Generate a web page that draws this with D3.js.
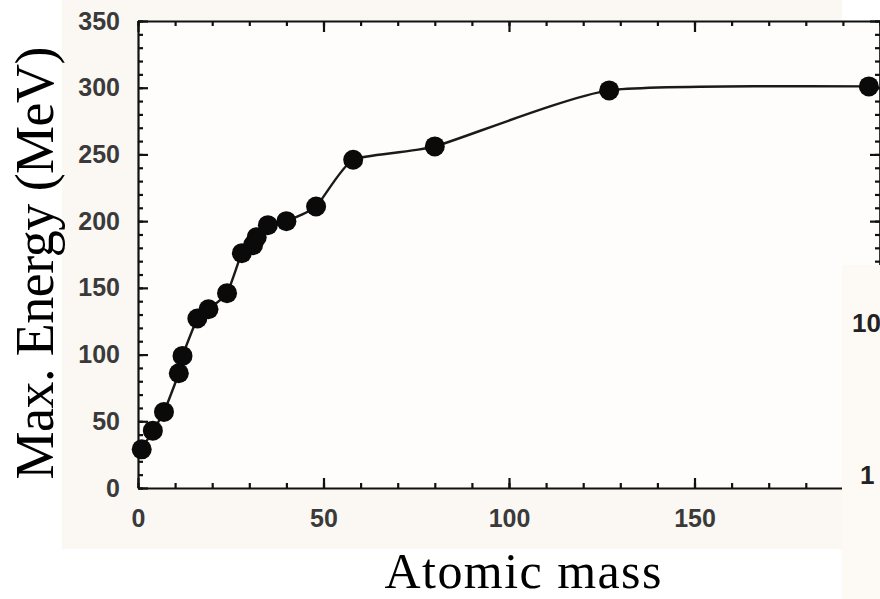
<!DOCTYPE html>
<html>
<head>
<meta charset="utf-8">
<script src="https://cdn.jsdelivr.net/npm/d3@7"></script>
<style>
  body { margin: 0; background: #fff; }
  svg { display: block; }
</style>
</head>
<body>
<svg width="880" height="599"></svg>
<script>
// Data
const mass = [1, 4, 7, 11, 12, 16, 19, 24, 28, 31, 32, 35, 40, 48, 58, 80, 127, 197];
const energy = [29, 43, 57, 86, 99, 127, 134, 146, 176, 182, 188, 197, 200, 211, 246, 256, 298, 301];
const xTicks = [0, 50, 100, 150];
const yTicks = [0, 50, 100, 150, 200, 250, 300, 350];

const points = mass.map((m, i) => ({ m: m, e: energy[i] }));

const svg = d3.select('svg');

// scanned-paper backgrounds
svg.append('rect')
  .attr('x', 62).attr('y', 0)
  .attr('width', 780).attr('height', 549)
  .attr('fill', '#fbf8f4');

const x = d3.scaleLinear().domain([0, 200]).range([138, 880]);
const y = d3.scaleLinear().domain([0, 350]).range([488, 21]);

svg.append('rect')
  .attr('x', x(0)).attr('y', y(350))
  .attr('width', x(200) - x(0)).attr('height', y(0) - y(350))
  .attr('fill', '#fffdfb');

const minorX = d3.range(0, 201, 10);
const minorY = d3.range(0, 351, 10);

function styleAxis(g) {
  g.selectAll('path, line').attr('stroke', '#111').attr('stroke-width', 2.2);
  g.selectAll('text')
    .attr('font-family', '"Liberation Sans", Arial, sans-serif')
    .attr('font-size', 25)
    .attr('font-weight', 'bold')
    .attr('fill', '#3a3a3a');
}

// bottom axis
svg.append('g')
  .attr('transform', `translate(0,${y(0)})`)
  .call(d3.axisBottom(x).tickValues(minorX).tickSizeInner(-5).tickSizeOuter(0).tickFormat(''))
  .call(styleAxis);
svg.append('g')
  .attr('transform', `translate(0,${y(0)})`)
  .call(d3.axisBottom(x).tickValues(xTicks).tickSizeInner(-10).tickSizeOuter(0).tickPadding(21))
  .call(g => g.select('.domain').remove())
  .call(styleAxis);

// top axis
svg.append('g')
  .attr('transform', `translate(0,${y(350)})`)
  .call(d3.axisTop(x).tickValues(minorX).tickSizeInner(-5).tickSizeOuter(0).tickFormat(''))
  .call(styleAxis);
svg.append('g')
  .attr('transform', `translate(0,${y(350)})`)
  .call(d3.axisTop(x).tickValues(xTicks).tickSizeInner(-11).tickSizeOuter(0).tickFormat(''))
  .call(g => g.select('.domain').remove())
  .call(styleAxis);

// left axis
svg.append('g')
  .attr('transform', `translate(${x(0)},0)`)
  .call(d3.axisLeft(y).tickValues(minorY).tickSizeInner(-5).tickSizeOuter(0).tickFormat(''))
  .call(styleAxis);
svg.append('g')
  .attr('transform', `translate(${x(0)},0)`)
  .call(d3.axisLeft(y).tickValues(yTicks).tickSizeInner(-10).tickSizeOuter(0).tickPadding(18))
  .call(g => g.select('.domain').remove())
  .call(styleAxis);

// right axis (edge of the frame)
svg.append('g')
  .attr('transform', `translate(${x(200)},0)`)
  .call(d3.axisRight(y).tickValues(minorY).tickSizeInner(-5).tickSizeOuter(0).tickFormat(''))
  .call(styleAxis);
svg.append('g')
  .attr('transform', `translate(${x(200)},0)`)
  .call(d3.axisRight(y).tickValues(yTicks).tickSizeInner(-10).tickSizeOuter(0).tickFormat(''))
  .call(styleAxis);

// curve and points
const line = d3.line()
  .x(d => x(d.m))
  .y(d => y(d.e))
  .curve(d3.curveCardinal.tension(0.45));

svg.append('path')
  .datum(points)
  .attr('d', line)
  .attr('fill', 'none')
  .attr('stroke', '#1a1a1a')
  .attr('stroke-width', 2.4);

svg.append('g')
  .selectAll('circle')
  .data(points)
  .join('circle')
  .attr('cx', d => x(d.m))
  .attr('cy', d => y(d.e))
  .attr('r', 10)
  .attr('fill', '#0a0a0a');

// strip of the neighbouring panel on the right
svg.append('rect')
  .attr('x', 842).attr('y', 265)
  .attr('width', 38).attr('height', 334)
  .attr('fill', '#fdfaf5');

svg.append('text')
  .attr('x', 852).attr('y', 332)
  .attr('font-family', '"Liberation Sans", Arial, sans-serif')
  .attr('font-size', 26).attr('font-weight', 'bold').attr('fill', '#222')
  .text('10');
svg.append('text')
  .attr('x', 860).attr('y', 484)
  .attr('font-family', '"Liberation Sans", Arial, sans-serif')
  .attr('font-size', 26).attr('font-weight', 'bold').attr('fill', '#222')
  .text('1');

// axis titles
svg.append('text')
  .attr('x', 523).attr('y', 588)
  .attr('text-anchor', 'middle')
  .attr('font-family', '"Liberation Serif", "Times New Roman", serif')
  .attr('font-size', 50)
  .attr('textLength', 277)
  .attr('fill', '#000')
  .text('Atomic mass');

svg.append('text')
  .attr('transform', 'translate(53,263) rotate(-90)')
  .attr('text-anchor', 'middle')
  .attr('font-family', '"Liberation Serif", "Times New Roman", serif')
  .attr('font-size', 54)
  .attr('textLength', 433)
  .attr('fill', '#000')
  .text('Max. Energy (MeV)');
</script>
</body>
</html>
